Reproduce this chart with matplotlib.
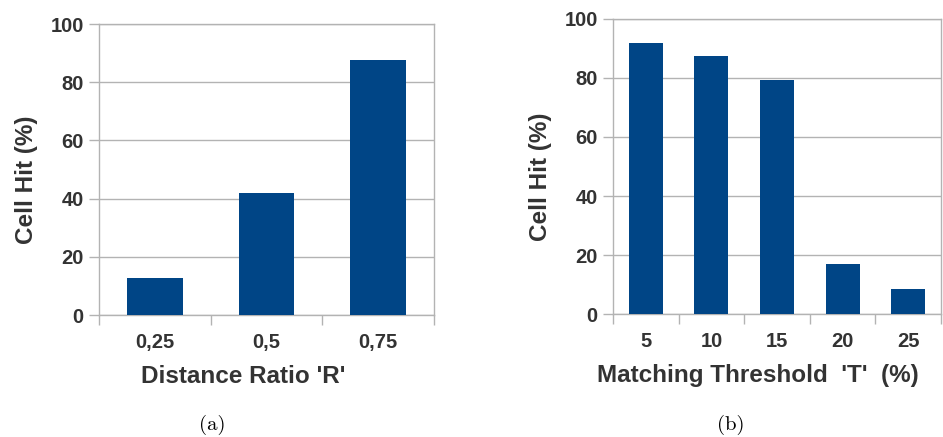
import matplotlib.pyplot as plt
import numpy as np

# data
ratio_labels = ['0,25', '0,5', '0,75']
ratio_hit = [12.7, 41.9, 87.6]

thresh_labels = ['5', '10', '15', '20', '25']
thresh_hit = [91.8, 87.5, 79.3, 16.9, 8.5]

bar_color = '#004586'
text_color = '#333333'
grid_color = '#b3b3b3'

plt.rcParams['font.family'] = ['Liberation Sans', 'DejaVu Sans']
plt.rcParams['font.weight'] = 'bold'
plt.rcParams['axes.labelweight'] = 'bold'

fig = plt.figure(figsize=(9.43, 4.37), dpi=100)


def draw_panel(ax, labels, values, width, xlabel, xl_x, caption, cap_x):
    x = np.arange(len(labels))
    ax.bar(x, values, width=width, color=bar_color, zorder=3)
    ax.set_xlim(-0.5, len(labels) - 0.5)
    ax.set_ylim(0, 100)
    ax.set_yticks(np.arange(0, 101, 20))
    ax.set_xticks(x)
    ax.set_xticklabels(labels)
    ax.set_xticks(np.arange(-0.5, len(labels)), minor=True)
    ax.tick_params(axis='x', which='major', length=0, pad=13,
                   labelsize=14.5, labelcolor=text_color)
    ax.tick_params(axis='x', which='minor', length=7, color=grid_color, width=1)
    ax.tick_params(axis='y', length=7, color=grid_color, width=1, pad=4,
                   labelsize=14.5, labelcolor=text_color)
    ax.grid(axis='y', color=grid_color, linewidth=1, zorder=0)
    for s in ax.spines.values():
        s.set_color(grid_color)
        s.set_linewidth(1)
    ax.set_xlabel(xlabel, fontsize=17.5, color=text_color, labelpad=9, x=xl_x)
    ax.set_ylabel('Cell Hit (%)', fontsize=17.5, color=text_color, labelpad=9, y=0.464)
    fig.text(cap_x, 1 - 425 / 437, caption, family='cmr10', fontweight='normal',
             fontsize=15, ha='center', va='center', color='black')


ax1 = fig.add_axes([0.105, 0.279, 0.355, 0.666])
draw_panel(ax1, ratio_labels, ratio_hit, 0.5, "Distance Ratio 'R'", 0.43, '(a)', 212 / 943)

ax2 = fig.add_axes([0.650, 0.281, 0.348, 0.676])
draw_panel(ax2, thresh_labels, thresh_hit, 0.52, "Matching Threshold  'T'  (%)", 0.442,
           '(b)', 731 / 943)

plt.savefig('out.png', dpi=100)
